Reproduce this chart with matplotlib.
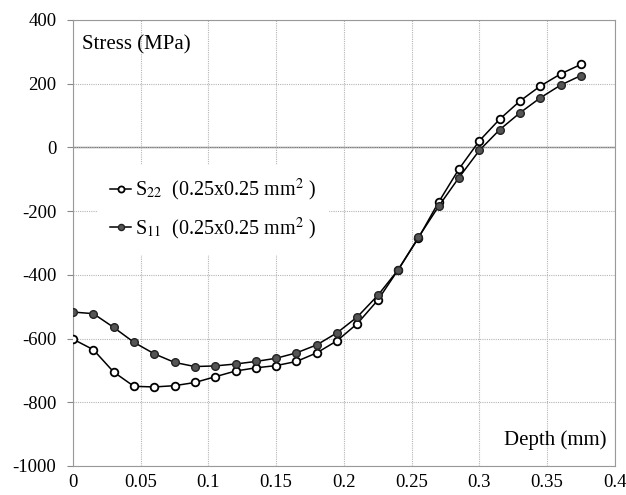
import matplotlib
matplotlib.use("Agg")
import matplotlib.pyplot as plt

plt.rcParams['font.family'] = ['Liberation Serif', 'DejaVu Serif']
plt.rcParams['mathtext.fontset'] = 'stix'
plt.rcParams['axes.unicode_minus'] = False

depth = [0, 0.015, 0.03, 0.045, 0.06, 0.075, 0.09, 0.105, 0.12, 0.135, 0.15, 0.165, 0.18,
         0.195, 0.21, 0.225, 0.24, 0.255, 0.27, 0.285, 0.3, 0.315, 0.33, 0.345, 0.36, 0.375]
s22 = [-602, -635, -705, -750, -752, -748, -738, -720, -702, -692, -685, -672, -645,
       -607, -553, -480, -385, -285, -172, -68, 20, 88, 145, 192, 230, 260]
s11 = [-517, -522, -565, -612, -648, -675, -688, -686, -680, -672, -662, -645, -620,
       -582, -532, -465, -385, -283, -185, -95, -10, 55, 108, 155, 195, 225]
xticks = [0, 0.05, 0.1, 0.15, 0.2, 0.25, 0.3, 0.35, 0.4]
xticklabels = ['0', '0.05', '0.1', '0.15', '0.2', '0.25', '0.3', '0.35', '0.4']
yticks = [400, 200, 0, -200, -400, -600, -800, -1000]

fig = plt.figure(figsize=(6.26, 4.95), dpi=100)
ax = fig.add_axes([0.1166, 0.0586, 0.8654, 0.9014])

ax.plot(depth, s22, '-o', color='black', lw=1.1, ms=5.5, mfc='white', mec='black', mew=1.3,
        label=r'S$_{22}$  (0.25x0.25 mm$^2$ )', zorder=3)
ax.plot(depth, s11, '-o', color='black', lw=1.1, ms=5.5, mfc='#555555', mec='#222222', mew=1.0,
        label=r'S$_{11}$  (0.25x0.25 mm$^2$ )', zorder=3)

ax.set_xlim(0, 0.4)
ax.set_ylim(-1000, 400)
ax.set_xticks(xticks)
ax.set_xticklabels(xticklabels)
ax.set_yticks(yticks)
ax.tick_params(axis='y', length=4, color='#888888', labelsize=13.5, pad=8)
ax.tick_params(axis='x', length=0, labelsize=13.5, pad=6)
ax.grid(True, color='#b5b5b5', lw=0.8, ls=(0, (1, 1)))
ax.axhline(0, color='#777777', lw=1.0, zorder=1)
for s in ax.spines.values():
    s.set_color('#999999')

ax.text(0.017, 0.965, 'Stress (MPa)', transform=ax.transAxes, fontsize=15, va='top', ha='left')
ax.text(0.985, 0.035, 'Depth (mm)', transform=ax.transAxes, fontsize=15, va='bottom', ha='right')

leg = ax.legend(loc='upper left', bbox_to_anchor=(0.046, 0.675), borderaxespad=0,
                fontsize=14.5, frameon=True,
                handlelength=1.05, handletextpad=0.2, labelspacing=0.62, borderpad=0.6,
                markerscale=0.8)
leg.get_frame().set_edgecolor('white')
leg.get_frame().set_facecolor('white')
leg.get_frame().set_alpha(1)
leg.get_frame().set_boxstyle('square', pad=0)

fig.savefig('out.png', dpi=100)
